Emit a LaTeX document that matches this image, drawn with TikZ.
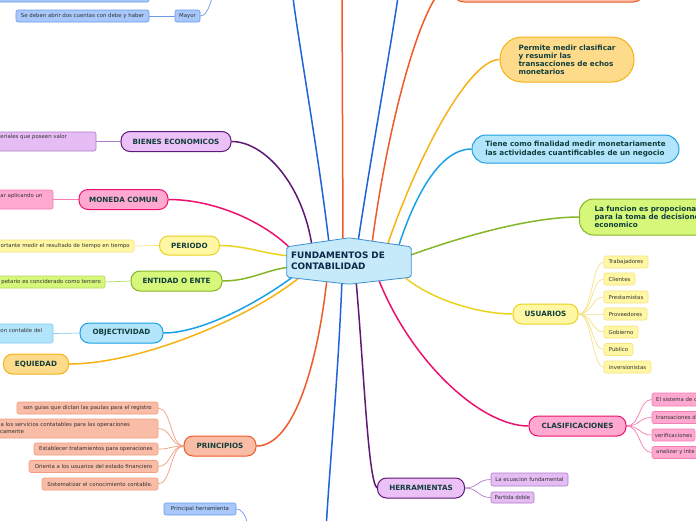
\documentclass[tikz,border=0pt]{standalone}
\usepackage{fontspec}
\setmainfont{DejaVu Sans}
\usetikzlibrary{backgrounds,calc}
\definecolor{purL}{HTML}{5E1875}
\definecolor{purF}{HTML}{EBC1F7}
\definecolor{purK}{HTML}{E6BCF5}
\definecolor{purKB}{HTML}{B07CC8}
\definecolor{pinL}{HTML}{EC1170}
\definecolor{pinF}{HTML}{FFA8D0}
\definecolor{pinKB}{HTML}{F47DB4}
\definecolor{yelL}{HTML}{EBD21F}
\definecolor{yelF}{HTML}{FFF7A3}
\definecolor{yelKB}{HTML}{F5E283}
\definecolor{greL}{HTML}{87B52A}
\definecolor{greF}{HTML}{D6F77A}
\definecolor{greKB}{HTML}{B5D95E}
\definecolor{cyaL}{HTML}{1AA0E6}
\definecolor{cyaF}{HTML}{B2E5FB}
\definecolor{cyaKB}{HTML}{80CCF2}
\definecolor{ambL}{HTML}{F7B314}
\definecolor{ambF}{HTML}{FEDB8B}
\definecolor{oraL}{HTML}{F05A28}
\definecolor{oraF}{HTML}{F9BCA7}
\definecolor{oraKB}{HTML}{F29D80}
\definecolor{bluL}{HTML}{1F63DB}
\definecolor{bluK}{HTML}{A8C8FB}
\definecolor{bluKB}{HTML}{6A9AEA}
\definecolor{ctrF}{HTML}{C6EAFA}
\definecolor{ctrB}{HTML}{3D8FD0}
\definecolor{ctrT}{HTML}{0D2747}
\definecolor{mainT}{HTML}{113E3C}
\definecolor{kidT}{HTML}{333333}
\tikzset{
  topic/.style={draw, line width=1pt, rounded corners=9pt, inner sep=0pt, align=center, text=mainT, font=\fontsize{7.2}{8.2}\selectfont\bfseries},
  kid/.style={draw, line width=0.6pt, rounded corners=2pt, inner sep=0pt, align=center, text=kidT, font=\fontsize{5.4}{7}\selectfont},
  kidtext/.style={inner sep=0pt, text=kidT, font=\fontsize{5.4}{7}\selectfont, align=left},
  branch/.style={line width=1.5pt},
  twig/.style={line width=0.7pt},
}
\begin{document}
\begin{tikzpicture}[x=1pt,y=-1pt]
\useasboundingbox (0,0) rectangle (696,520);
% centre
\node[inner xsep=4pt, inner ysep=0pt, text width=116pt, minimum height=46pt, align=left, text=ctrT, font=\fontsize{8.9}{11}\selectfont\bfseries] (fund) at (349,261) {FUNDAMENTOS DE\\CONTABILIDAD};
% top-left blue kids
\node[kid, fill=bluK, draw=bluKB, minimum width=169pt, minimum height=16pt] (topb) at (64.5,-6) {};
\node[kid, fill=bluK, draw=bluKB, minimum width=25pt, minimum height=12pt] (may) at (187.5,16) {Mayor};
\node[kid, fill=bluK, draw=bluKB, minimum width=133pt, minimum height=12pt] (sed) at (82.5,16) {Se deben abrir dos cuentas con debe y haber};
% left topics
\node[topic, fill=purF, draw=purL, minimum width=110pt, minimum height=20pt] (bie) at (176,141.5) {BIENES ECONOMICOS};
\node[kid, fill=purK, draw=purKB, minimum width=126pt, minimum height=19pt] (biek) at (33,141.5) {};
\node[kidtext, anchor=west] (biet) at (0.3,137.5) {eriales que poseen valor};
\node[topic, fill=pinF, draw=pinL, minimum width=89pt, minimum height=20pt] (mon) at (123.5,199.5) {MONEDA COMUN};
\node[kid, fill=pinF, draw=pinKB, minimum width=83pt, minimum height=19pt] (monk) at (11.5,199.5) {};
\node[kidtext, anchor=west] (mont) at (0.3,196.5) {ar aplicando un};
\node[topic, fill=yelF, draw=yelL, minimum width=60pt, minimum height=19pt] (peri) at (189.5,245.5) {PERIODO};
\node[kid, fill=yelF, draw=yelKB, minimum width=164pt, minimum height=12pt] (perik) at (52,246) {};
\node[kidtext, anchor=east] (perit) at (130,246) {ortante medir el resultado de tiempo en tiempo};
\node[topic, fill=greF, draw=greL, minimum width=91pt, minimum height=20pt] (ent) at (176.5,281) {ENTIDAD O ENTE};
\node[kid, fill=greF, draw=greKB, minimum width=135pt, minimum height=12pt] (entk) at (37.5,282) {};
\node[kidtext, anchor=east] (entt) at (101,282) {petario es conciderado como tercero};
\node[topic, fill=cyaF, draw=cyaL, minimum width=83pt, minimum height=20pt] (obj) at (121.5,333) {OBJECTIVIDAD};
\node[kid, fill=cyaF, draw=cyaKB, minimum width=83pt, minimum height=19pt] (objk) at (11.5,333.5) {};
\node[kidtext, anchor=west] (objt) at (0.3,330) {on contable del};
\node[topic, fill=ambF, draw=ambL, minimum width=65pt, minimum height=20pt] (equ) at (36,364) {EQUIEDAD};
% principios
\node[topic, fill=oraF, draw=oraL, minimum width=72pt, minimum height=20pt] (pri) at (220,446) {PRINCIPIOS};
\node[kid, fill=oraF, draw=oraKB, minimum width=141pt, minimum height=12pt] (pk1) at (87.5,408) {son guias que dictan las pautas para el registro};
\node[kid, fill=oraF, draw=oraKB, minimum width=188pt, minimum height=19pt] (pk2) at (64,428.5) {};
\node[kidtext, anchor=west] (pk2a) at (0.5,425) {a los servicios contatables para las operaciones};
\node[kidtext, anchor=west] (pk2b) at (0,432) {camente};
\node[kid, fill=oraF, draw=oraKB, minimum width=124pt, minimum height=12pt] (pk3) at (96,449) {Establecer tratamientos para operaciones};
\node[kid, fill=oraF, draw=oraKB, minimum width=129pt, minimum height=12pt] (pk4) at (93.5,466.5) {Orienta a los usuarios del estado financiero};
\node[kid, fill=oraF, draw=oraKB, minimum width=116pt, minimum height=12pt] (pk5) at (100,484) {Sistematizar el conocimiento contable.};
\node[kid, fill=bluK, draw=bluKB, minimum width=72pt, minimum height=12pt] (ph) at (200,509) {Principal herramienta};
% herramientas
\node[topic, fill=purF, draw=purL, minimum width=87pt, minimum height=20pt] (her) at (421,488) {HERRAMIENTAS};
\node[kid, fill=purK, draw=purKB, minimum width=77pt, minimum height=13pt] (hk1) at (529.5,479.5) {La ecuacion fundamental};
\node[kid, fill=purK, draw=purKB, minimum width=43pt, minimum height=11pt] (hk2) at (512.5,497.5) {Partida doble};
% usuarios
\node[topic, fill=yelF, draw=yelL, minimum width=65pt, minimum height=20pt] (usu) at (545.5,314) {USUARIOS};
\node[kid, fill=yelF, draw=yelKB, minimum width=44pt, minimum height=12pt] (u1) at (626,262) {Trabajadores};
\node[kid, fill=yelF, draw=yelKB, minimum width=31pt, minimum height=12pt] (u2) at (619.5,279) {Clientes};
\node[kid, fill=yelF, draw=yelKB, minimum width=44pt, minimum height=12pt] (u3) at (626,297) {Prestamistas};
\node[kid, fill=yelF, draw=yelKB, minimum width=43pt, minimum height=12pt] (u4) at (625.5,314) {Proveedores};
\node[kid, fill=yelF, draw=yelKB, minimum width=34pt, minimum height=12pt] (u5) at (621,332) {Gobierno};
\node[kid, fill=yelF, draw=yelKB, minimum width=29pt, minimum height=12pt] (u6) at (618.5,349.5) {Publico};
\node[kid, fill=yelF, draw=yelKB, minimum width=47pt, minimum height=12pt] (u7) at (627.5,367) {inversionistas};
% clasificaciones
\node[topic, fill=pinF, draw=pinL, minimum width=97pt, minimum height=20pt] (cla) at (577.5,426) {CLASIFICACIONES};
\node[kid, fill=pinF, draw=pinKB, minimum width=88pt, minimum height=13pt] (c1) at (696,399.5) {};
\node[kidtext, anchor=west] (c1t) at (656,399.5) {El sistema de c};
\node[kid, fill=pinF, draw=pinKB, minimum width=88pt, minimum height=12pt] (c2) at (696,417.5) {};
\node[kidtext, anchor=west] (c2t) at (656,417.5) {transaciones d};
\node[kid, fill=pinF, draw=pinKB, minimum width=43pt, minimum height=12pt] (c3) at (673.5,435) {verificaciones};
\node[kid, fill=pinF, draw=pinKB, minimum width=88pt, minimum height=12pt] (c4) at (696,452.5) {};
\node[kidtext, anchor=west] (c4t) at (656,452.5) {analizar y inte};
% right topics
\node[topic, fill=greF, draw=greL, anchor=west, inner xsep=15pt, minimum height=36pt, align=left, rounded corners=14pt, font=\fontsize{7.2}{8}\selectfont\bfseries] (fun) at (579,217) {La funcion es propocionar\\para la toma de decisione\\economico};
\node[topic, fill=cyaF, draw=cyaL, minimum width=207pt, minimum height=28pt, align=left, rounded corners=14pt] (tie) at (575.5,149) {Tiene como finalidad medir monetariamente\\las actividades cuantificables de un negocio};
\node[topic, fill=ambF, draw=ambL, minimum width=134pt, minimum height=45pt, align=left, rounded corners=22pt, font=\fontsize{7.2}{8}\selectfont\bfseries] (perm) at (567,59.5) {Permite medir clasificar\\y resumir las\\transacciones de echos\\monetarios};
\node[topic, fill=oraF, draw=oraL, minimum width=193pt, minimum height=36pt, rounded corners=12pt] (topor) at (548.5,-16) {};
% coordinates
\coordinate (sBie) at (312,246);
\coordinate (sBlA) at (329,243);
\coordinate (sOrA) at (343,242);
\coordinate (sBlB) at (358,242);
\coordinate (sOrB) at (372,244);
\coordinate (sPer) at (387,246);
\coordinate (sTie) at (398,248);
\coordinate (sMon) at (292,250);
\coordinate (sPeri) at (290,256);
\coordinate (sEnt) at (290,267);
\coordinate (sObj) at (294,276);
\coordinate (sEqu) at (300,277);
\coordinate (sPri) at (327,279);
\coordinate (sBlC) at (342,280);
\coordinate (sHer) at (356,280);
\coordinate (sCla) at (378,278);
\coordinate (sUsu) at (402,275);
\coordinate (sFun) at (408,256);
\coordinate (eBlA) at (292,-10);
\coordinate (eOrA) at (342,-10);
\coordinate (eBlB) at (399,-10);
\coordinate (eBlC) at (326,530);
\coordinate (eMay) at (214,-10);
\coordinate (ePh) at (248,530);
\begin{pgfonlayer}{background}
\fill[white] (0,0) rectangle (696,520);
\draw[branch, bluL] (sBlA) .. controls (318,150) and (298,40) .. (eBlA);
\draw[branch, oraL] (sOrA) -- (eOrA);
\draw[branch, bluL] (sBlB) .. controls (372,150) and (392,40) .. (eBlB);
\draw[branch, oraL] (sOrB) .. controls (388,120) and (425,-16) .. (topor.west);
\draw[branch, ambL] (sPer) .. controls (420,150) and (470,59.5) .. (perm.west);
\draw[branch, cyaL] (sTie) .. controls (415,195) and (440,149) .. (tie.west);
\draw[branch, greL] (sFun) .. controls (460,237) and (530,217) .. (fun.west);
\draw[branch, yelL] (sUsu) .. controls (430,300) and (480,314) .. (usu.west);
\draw[branch, pinL] (sCla) .. controls (410,360) and (480,426) .. (cla.west);
\draw[branch, purL] (sHer) .. controls (364,370) and (368,480) .. (her.west);
\draw[branch, bluL] (sBlC) .. controls (338,380) and (330,460) .. (eBlC);
\draw[branch, oraL] (sPri) .. controls (318,360) and (295,446) .. (pri.east);
\draw[branch, ambL] (sEqu) .. controls (250,318) and (140,364) .. (equ.east);
\draw[branch, cyaL] (sObj) .. controls (255,305) and (200,333) .. (obj.east);
\draw[branch, greL] (sEnt) .. controls (265,270) and (250,281) .. (ent.east);
\draw[branch, yelL] (sPeri) .. controls (265,254) and (245,245.5) .. (peri.east);
\draw[branch, pinL] (sMon) .. controls (265,222) and (215,199.5) .. (mon.east);
\draw[branch, purL] (sBie) .. controls (303,185) and (265,141.5) .. (bie.east);
% twigs
\draw[twig, purKB] (bie.west) -- (biek.east);
\draw[twig, pinKB] (mon.west) -- (monk.east);
\draw[twig, yelKB] (peri.west) -- (perik.east);
\draw[twig, greKB] (ent.west) -- (entk.east);
\draw[twig, cyaKB] (obj.west) -- (objk.east);
\draw[twig, bluKB] (may.west) -- (sed.east);
\draw[twig, bluKB] (may.east) .. controls +(8,0) and +(-2,8) .. (eMay);
\draw[twig, bluKB] (ph.east) .. controls +(7,0) and +(0,-10) .. (ePh);
\foreach \k in {pk1,pk2,pk3,pk4,pk5}
  \draw[twig, oraKB] (pri.west) .. controls +(-13,0) and +(13,0) .. (\k.east);
\foreach \k in {hk1,hk2}
  \draw[twig, purKB] (her.east) .. controls +(13,0) and +(-13,0) .. (\k.west);
\foreach \k in {u1,u2,u3,u4,u5,u6,u7}
  \draw[twig, yelKB] (usu.east) .. controls +(14,0) and +(-12,0) .. (\k.west);
\foreach \k in {c1,c2,c3,c4}
  \draw[twig, pinKB] (cla.east) .. controls +(14,0) and +(-13,0) .. (\k.west);
% centre hexagon
\draw[ctrB, fill=ctrF, line width=0.8pt, rounded corners=2pt] ($(fund.north west)+(0,9)$) -- (fund.north) -- ($(fund.north east)+(0,9)$) -- ($(fund.south east)+(0,-7)$) -- (fund.south) -- ($(fund.south west)+(0,-7)$) -- cycle;
\end{pgfonlayer}
\end{tikzpicture}
\end{document}
